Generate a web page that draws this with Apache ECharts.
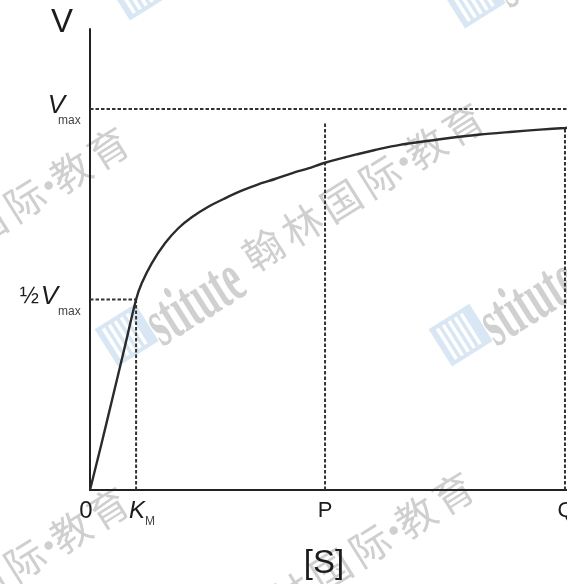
<!DOCTYPE html>
<html>
<head>
<meta charset="utf-8">
<script src="https://cdn.jsdelivr.net/npm/echarts@6/dist/echarts.min.js"></script>
<style>
  html, body { margin: 0; padding: 0; background: #fff; }
  #main { width: 567px; height: 584px; }
</style>
</head>
<body>
<div id="main"></div>
<script>
// Michaelis–Menten saturation curve: substrate [S] (in units of K_M) vs. velocity (fraction of Vmax)
const substrate = [0, 0.24, 0.49, 0.74, 1.0, 1.122, 1.339, 1.627, 1.916, 2.207, 2.567, 2.929, 3.291, 3.652,
                   4.014, 4.376, 4.736, 5.1, 5.821, 6.183, 6.726, 7.594, 8.462, 9.177, 9.763, 10.306, 10.35];
const velocity  = [0, 0.117, 0.242, 0.368, 0.5, 0.5425, 0.595, 0.6475, 0.687, 0.716, 0.7436, 0.7656, 0.7856, 0.8024,
                   0.8163, 0.8312, 0.8444, 0.859, 0.882, 0.8924, 0.906, 0.9207, 0.9331, 0.9404, 0.9459, 0.9501, 0.9507];

// marked substrate concentrations on the x axis
const xMarkNames  = ['KM', 'P', 'Q'];
const xMarkValues = [1.0, 5.1, 10.306];
// height reached by each vertical guide line
const xMarkTops   = [0.5, 0.966, 0.9501];

// marked velocities on the y axis
const vHalf = 0.5;
const vMax = 1.0;

const X_MAX = 10.35;
const Y_MAX = 1.21;

const chart = echarts.init(document.getElementById('main'), null, { renderer: 'canvas' });

const guide = { color: '#333', width: 2, type: [3.5, 2] };

function seg(a, b) {
  return {
    type: 'line', data: [a, b], symbol: 'none', silent: true,
    lineStyle: guide, z: 1, animation: false
  };
}

const series = [
  {
    type: 'line',
    data: substrate.map((s, i) => [s, velocity[i]]),
    smooth: 0.3,
    symbol: 'none',
    lineStyle: { color: '#2b2b2b', width: 2.4 },
    z: 3,
    animation: false
  },
  seg([0, vMax], [X_MAX, vMax]),
  seg([0, vHalf], [xMarkValues[0], vHalf])
];
xMarkValues.forEach((v, i) => series.push(seg([v, 0], [v, xMarkTops[i]])));

chart.setOption({
  backgroundColor: '#fff',
  animation: false,
  grid: { left: 90, right: 0, top: 29, bottom: 94 },
  xAxis: {
    type: 'value', min: 0, max: X_MAX,
    axisLine: { show: true, lineStyle: { color: '#222', width: 2 } },
    axisTick: { show: false }, axisLabel: { show: false }, splitLine: { show: false }
  },
  yAxis: {
    type: 'value', min: 0, max: Y_MAX,
    axisLine: { show: true, lineStyle: { color: '#222', width: 2 } },
    axisTick: { show: false }, axisLabel: { show: false }, splitLine: { show: false }
  },
  series: series
});

const FONT = '"Liberation Sans", Arial, Helvetica, sans-serif';
const px = (x, y) => chart.convertToPixel({ gridIndex: 0 }, [x, y]);

function txt(text, x, y, size, opts) {
  opts = opts || {};
  return {
    type: 'text', z: 20, silent: true,
    style: {
      text: text, x: x, y: y,
      font: (opts.italic ? 'italic ' : '') + size + 'px ' + FONT,
      fill: opts.fill || '#1c1c1c',
      textAlign: opts.align || 'center',
      textVerticalAlign: opts.valign || 'middle'
    }
  };
}

const origin = px(0, 0);
const yMaxPx = px(0, vMax)[1];
const yHalfPx = px(0, vHalf)[1];
const axisY = origin[1];

const labels = [
  // axis titles
  txt('V', 62, 23, 33),
  txt('[S]', px(xMarkValues[1], 0)[0] - 1, axisY + 74, 33),
  // y-axis marks
  txt('V', 65, yMaxPx - 3, 26, { italic: true, align: 'right' }),
  txt('max', 58, yMaxPx + 12, 12, { align: 'left', fill: '#444' }),
  txt('½', 39, yHalfPx - 3, 23, { align: 'right' }),
  txt('V', 58, yHalfPx - 3, 26, { italic: true, align: 'right' }),
  txt('max', 58, yHalfPx + 12, 12, { align: 'left', fill: '#444' }),
  // x-axis marks
  txt('0', origin[0] - 4, axisY + 21, 24),
  txt('K', px(xMarkValues[0], 0)[0] + 1, axisY + 21, 24, { italic: true }),
  txt('M', px(xMarkValues[0], 0)[0] + 9, axisY + 32, 12, { align: 'left', fill: '#444' }),
  txt('P', px(xMarkValues[1], 0)[0], axisY + 21, 22),
  txt('Q', px(xMarkValues[2], 0)[0] + 1, axisY + 21, 22)
];

// faint repeating publisher watermark (logo box, word, then Chinese name along a slanted line)
const wmChars = ['翰', '林', '国', '际', '·', '教', '育'];
const wmSteps = [0, 46, 92, 138, 166, 192, 236];

function watermark(x, y) {
  const parts = [
    { type: 'rect', shape: { x: -44, y: -19, width: 48, height: 44 },
      style: { fill: '#d8e7f3' } }
  ];
  for (let i = 0; i < 5; i++) {
    parts.push({
      type: 'rect', shape: { x: -38 + i * 7, y: -15, width: 3.5, height: 36 },
      style: { fill: '#ffffff' }
    });
  }
  parts.push({
    type: 'text', x: 4, y: 49, scaleX: 0.55,
    style: { text: 'stitute', x: 0, y: 0, font: 'bold 70px "Liberation Serif", serif',
             fill: '#d0d0d0', textAlign: 'left', textVerticalAlign: 'bottom' }
  });
  wmChars.forEach((c, i) => parts.push({
    type: 'text', x: 141 + wmSteps[i], y: 3,
    style: { text: c, x: 0, y: 0, font: '40px "Noto Sans CJK SC", sans-serif',
             fill: '#cfcfcf', textAlign: 'center', textVerticalAlign: 'middle' }
  }));
  return { type: 'group', x: x, y: y, rotation: 0.56, z: 0, silent: true, children: parts };
}

const marks = [
  watermark(142, 322),
  watermark(476, 322),
  watermark(-213, 346),
  watermark(132, 691),
  watermark(-213, 706),
  watermark(489, -16),
  watermark(154, -24)
];

chart.setOption({ graphic: marks.concat(labels) });
</script>
</body>
</html>
